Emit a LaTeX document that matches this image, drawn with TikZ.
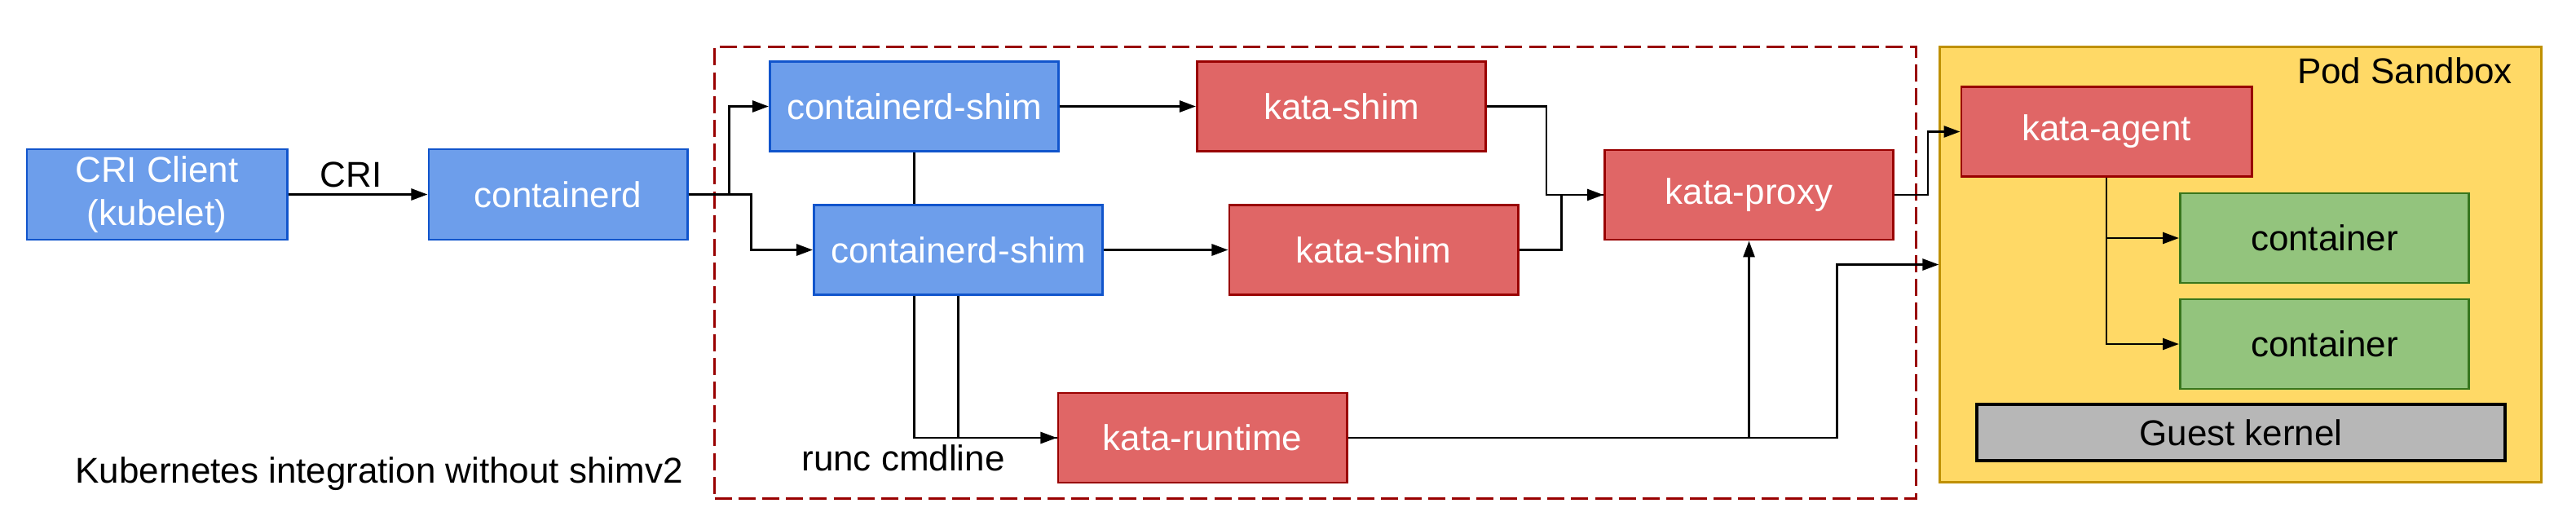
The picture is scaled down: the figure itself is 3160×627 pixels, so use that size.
\documentclass[tikz,border=0pt]{standalone}
\usepackage{fontspec}
\setmainfont{Liberation Sans}
\usepackage{tikz}
\usetikzlibrary{positioning,calc,arrows.meta}

\definecolor{bluefill}{HTML}{6D9EEB}
\definecolor{blueline}{HTML}{1155CC}
\definecolor{redfill}{HTML}{E06666}
\definecolor{redline}{HTML}{990000}
\definecolor{greenfill}{HTML}{93C47D}
\definecolor{greenline}{HTML}{38761D}
\definecolor{podfill}{HTML}{FFD966}
\definecolor{podline}{HTML}{BF9000}
\definecolor{kernfill}{HTML}{B7B7B7}

\begin{document}
\begin{tikzpicture}[x=0.01cm,y=-0.01cm,
        font=\fontsize{12.5}{15}\selectfont,
        box/.style={draw,line width=0.8pt,inner sep=0pt,minimum width=3.54cm,minimum height=1.1cm,align=center},
        bluebox/.style={box,fill=bluefill,draw=blueline,text=white},
        redbox/.style={box,fill=redfill,draw=redline,text=white},
        greenbox/.style={box,fill=greenfill,draw=greenline},
        line/.style={line width=0.8pt},
        conn/.style={line,-{Triangle[length=0.2cm,width=0.14cm]}}]
        \useasboundingbox (0,0) rectangle (3160,627);

        \node[draw=redline,line width=0.9pt,dash pattern=on 6pt off 2.3pt,minimum width=14.73cm,minimum height=5.53cm](frame)at(1613.5,334.5){};
        \node[draw=podline,fill=podfill,line width=0.8pt,minimum width=7.37cm,minimum height=5.33cm](pod)at(2748.5,324.5){};
        \node(podlbl)at(2950,87){Pod Sandbox};

        \node[bluebox,minimum width=3.19cm,minimum height=1.11cm](cri)at(192.5,238.5){CRI Client\\(kubelet)};
        \node[bluebox,minimum width=3.17cm,minimum height=1.11cm](ctrd)at(684.5,238.5){containerd};
        \node[bluebox](shimA)at(1121.5,130.5){containerd-shim};
        \node[bluebox](shimB)at(1175.5,306.5){containerd-shim};
        \node[redbox](kshimA)at(1645.5,130.5){kata-shim};
        \node[redbox](kshimB)at(1685,306.5){kata-shim};
        \node[redbox](krt)at(1475,537){kata-runtime};
        \node[redbox](kproxy)at(2145.5,239){kata-proxy};
        \node[redbox,minimum width=3.56cm](kagent)at(2584,161.5){kata-agent};
        \node[greenbox](ctrA)at(2851.5,292){container};
        \node[greenbox](ctrB)at(2851.5,422){container};
        \node[box,fill=kernfill,line width=1.1pt,minimum width=6.48cm,minimum height=0.69cm](kernel)at(2749,530.5){Guest kernel};

        \node(runc)at(1108,562){runc cmdline};
        \node(caption)at(465,581){Kubernetes integration without shimv2};

        \draw[conn] (cri.east) -- node[above,pos=0.45,inner sep=2pt](crilbl){CRI} (ctrd.west);
        \draw[conn] (ctrd.east) -- ++(50,0) |- (shimA.west);
        \draw[conn] (ctrd.east) -- ++(77,0) |- (shimB.west);
        \draw[line] (shimA.south) -- (shimA.south |- shimB.north);
        \draw[conn] (shimA.east) -- (kshimA.west);
        \draw[conn] (shimB.east) -- (kshimB.west);
        \draw[conn] (kshimA.east) -- ++(73,0) |- (kproxy.west);
        \draw[line] (kshimB.east) -- ++(52,0) |- (kproxy.west);
        \draw[line] (shimB.south -| shimA.south) |- (krt.west);
        \draw[conn] (shimB.south) |- (krt.west);
        \draw[conn] (krt.east) -| (kproxy.south);
        \draw[conn] (krt.east) -- ++(600,0) |- (pod.west);
        \draw[conn] (kproxy.east) -- ++(41,0) |- (kagent.west);
        \draw[conn] (kagent.south) |- (ctrA.west);
        \draw[conn] (kagent.south) |- (ctrB.west);
    \end{tikzpicture}
\end{document}
